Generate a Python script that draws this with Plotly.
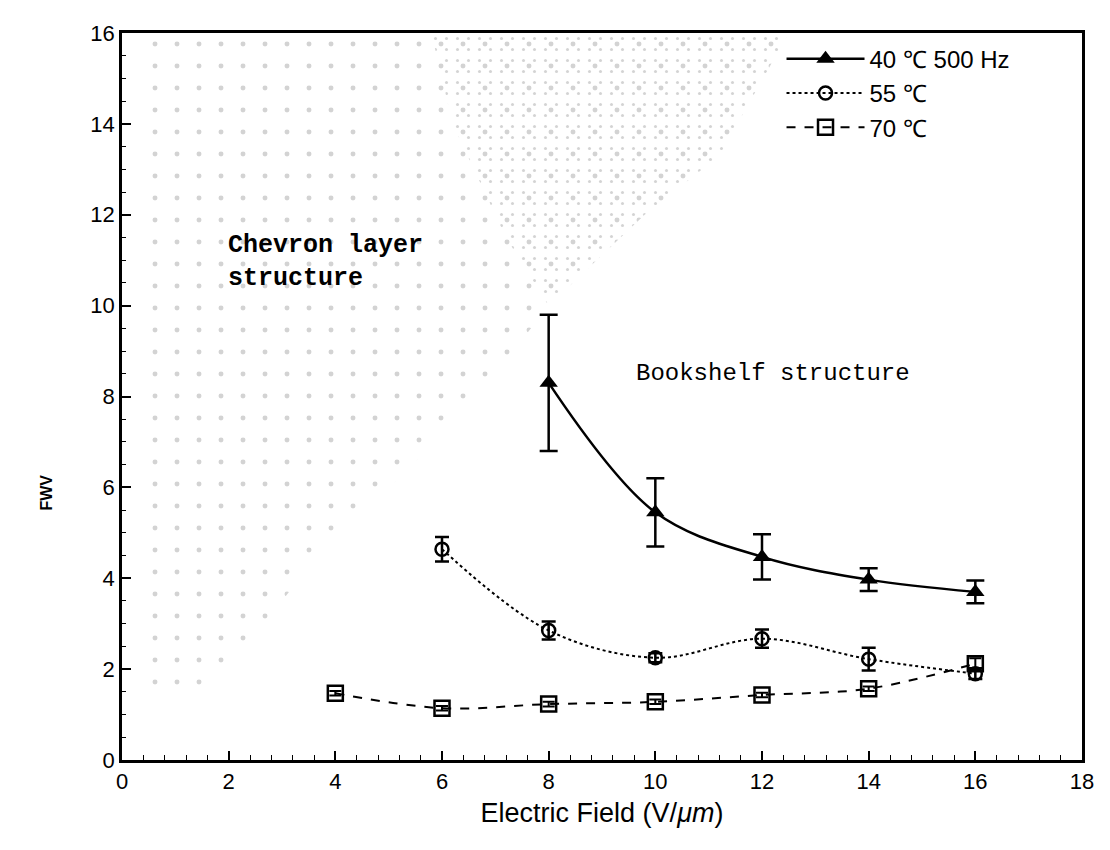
import plotly.graph_objects as go

# ---- data ----
x40 = [8, 10, 12, 14, 16]
y40 = [8.3, 5.45, 4.47, 3.97, 3.7]
e40 = [1.5, 0.75, 0.5, 0.25, 0.25]

x55 = [6, 8, 10, 12, 14, 16]
y55 = [4.64, 2.85, 2.25, 2.67, 2.22, 1.9]
e55 = [0.27, 0.2, 0.1, 0.2, 0.25, 0.12]

x70 = [4, 6, 8, 10, 12, 14, 16]
y70 = [1.47, 1.14, 1.23, 1.28, 1.43, 1.57, 2.12]
e70 = [0.05, 0.05, 0.05, 0.05, 0.05, 0.05, 0.12]

# stippled "chevron" region outline (data coordinates)
chev_x = [0.3, 0.3, 12.5, 11.2, 9.8, 8.0, 7.0, 5.3, 4.0, 2.8, 1.5, 0.3]
chev_y = [1.5, 16, 16, 13.3, 12.0, 10.0, 8.5, 6.3, 5.0, 3.2, 1.5, 1.5]
dense_x = [5.8, 12.5, 11.2, 9.8, 8.0, 7.2, 6.2, 5.8]
dense_y = [16, 16, 13.3, 12.0, 10.0, 11.5, 14.0, 16]

x_ticks = [0, 2, 4, 6, 8, 10, 12, 14, 16, 18]
y_ticks = [0, 2, 4, 6, 8, 10, 12, 14, 16]

fig = go.Figure()

fig.add_trace(go.Scatter(
    x=chev_x, y=chev_y, mode="none", fill="toself",
    fillcolor="rgba(0,0,0,0)",
    fillpattern=dict(shape=".", fgcolor="#a8a8a8", bgcolor="rgba(0,0,0,0)",
                     size=22, solidity=0.04),
    showlegend=False, hoverinfo="skip"))
fig.add_trace(go.Scatter(
    x=dense_x, y=dense_y, mode="none", fill="toself",
    fillcolor="rgba(0,0,0,0)",
    fillpattern=dict(shape=".", fgcolor="#a8a8a8", bgcolor="rgba(0,0,0,0)",
                     size=11, solidity=0.06),
    showlegend=False, hoverinfo="skip"))

fig.add_trace(go.Scatter(
    x=x40, y=y40, name="40 ℃ 500 Hz", mode="lines+markers",
    line=dict(color="black", width=2.5, shape="spline"),
    marker=dict(symbol="triangle-up", size=16, color="black"),
    error_y=dict(type="data", array=e40, color="black", thickness=2.5, width=9)))

fig.add_trace(go.Scatter(
    x=x55, y=y55, name="55 ℃", mode="lines+markers",
    line=dict(color="black", width=2, shape="spline", dash="dot"),
    marker=dict(symbol="circle-open", size=13, color="black", line=dict(width=2.5)),
    error_y=dict(type="data", array=e55, color="black", thickness=2.5, width=7)))

fig.add_trace(go.Scatter(
    x=x70, y=y70, name="70 ℃", mode="lines+markers",
    line=dict(color="black", width=2, shape="spline", dash="dash"),
    marker=dict(symbol="square-open", size=15, color="black", line=dict(width=2.5)),
    error_y=dict(type="data", array=e70, color="black", thickness=2, width=6)))

fig.add_annotation(x=1.95, y=10.95, xref="x", yref="y", xanchor="left", yanchor="middle",
                   text="<b>Chevron layer<br>structure</b>", showarrow=False, align="left",
                   font=dict(family="Liberation Mono", size=25, color="black"))
fig.add_annotation(x=9.6, y=8.5, xref="x", yref="y", xanchor="left", yanchor="middle",
                   text="Bookshelf structure", showarrow=False,
                   font=dict(family="Liberation Mono", size=24, color="black"))

W, H = 1110, 850
L, R, T, B = 122, 28, 33, 90
fig.add_annotation(x=(35 - L) / (W - L - R), y=1 - (493 - T) / (H - T - B),
                   xref="paper", yref="paper", text="<b>FWV</b>",
                   showarrow=False, textangle=-90,
                   font=dict(family="Liberation Sans", size=16, color="black"))

fig.update_layout(
    width=W, height=H,
    margin=dict(l=L, r=R, t=T, b=B),
    plot_bgcolor="white", paper_bgcolor="white",
    font=dict(family="Liberation Sans", color="black"),
    legend=dict(x=0.687, y=0.995, xanchor="left", yanchor="top",
                bgcolor="rgba(255,255,255,0)", borderwidth=0,
                font=dict(size=24, family="Liberation Sans"),
                itemwidth=78, tracegroupgap=4),
    showlegend=True,
)
fig.update_xaxes(range=[0, 18], tickvals=x_ticks, ticks="inside", ticklen=9, tickwidth=1.5,
                 tickcolor="black", showline=True, linewidth=2.5, linecolor="black",
                 mirror=True, showgrid=False, zeroline=False,
                 tickfont=dict(size=22),
                 minor=dict(dtick=0.4, ticks="inside", ticklen=5, tickcolor="black", tickwidth=1),
                 title=dict(text="Electric Field (V/<i>μm</i>)", font=dict(size=27), standoff=10))
fig.update_yaxes(range=[0, 16], tickvals=y_ticks, ticks="inside", ticklen=9, tickwidth=1.5,
                 tickcolor="black", showline=True, linewidth=2.5, linecolor="black",
                 mirror=True, showgrid=False, zeroline=False,
                 tickfont=dict(size=22),
                 minor=dict(dtick=0.5, ticks="inside", ticklen=4, tickcolor="black", tickwidth=1))

fig.write_html("out.html")
